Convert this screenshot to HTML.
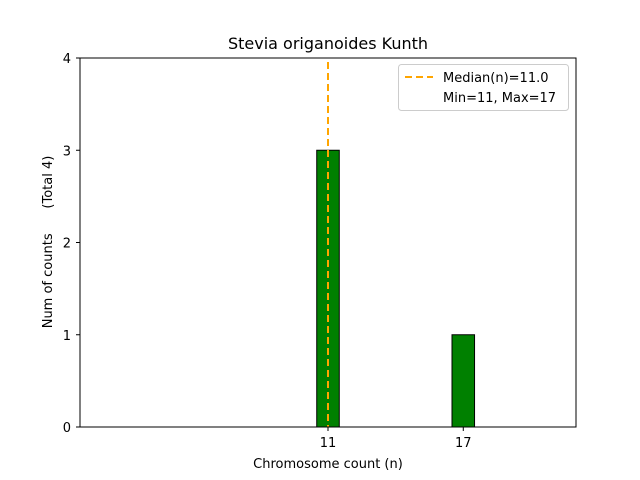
<!DOCTYPE html>
<html><head><meta charset="utf-8"><style>
body{margin:0;background:#fff}
svg{display:block;font-family:"DejaVu Sans","Liberation Sans",sans-serif}
</style></head><body>
<svg id="chart" width="640" height="480">
<text x="328" y="49" font-size="16" text-anchor="middle">Stevia origanoides Kunth</text>
<g id="plot"></g>
<rect x="80" y="58" width="496" height="369" fill="none" stroke="#000" stroke-width="1"/>
<text x="328" y="468" font-size="13" text-anchor="middle">Chromosome count (n)</text>
<text transform="translate(52,242) rotate(-90)" font-size="13" text-anchor="middle">Num of counts&#160;&#160;&#160;&#160;&#160;&#160;(Total 4)</text>
<g>
<rect x="398.5" y="64.5" width="170" height="46" rx="3" fill="#fff" stroke="#ccc"/>
<line x1="405" y1="77" x2="433" y2="77" stroke="orange" stroke-width="2" stroke-dasharray="7,4"/>
<text x="443" y="82" font-size="13">Median(n)=11.0</text>
<text x="443" y="102" font-size="13">Min=11, Max=17</text>
</g>
</svg>
<script>
const categories = [11, 17];
const counts = [3, 1];
const yTicks = [0, 1, 2, 3, 4];
const xTicks = [11, 17];
const medianValue = [11.0];
const NS = "http://www.w3.org/2000/svg";
const x = v => 80 + v * (496 / 22);
const y = v => 427 - v * (369 / 4);
const g = document.getElementById('plot');
function mk(tag, attrs){const e=document.createElementNS(NS,tag);for(const k in attrs)e.setAttribute(k,attrs[k]);return e;}
const base = mk('line',{x1:x(0),y1:427,x2:x(20.5),y2:427,stroke:'#000','stroke-width':1});


g.appendChild(base);
categories.forEach((c,i)=>{
  const r = mk('rect',{x:x(c-0.5),y:y(counts[i]),width:x(c+0.5)-x(c-0.5),height:y(0)-y(counts[i]),fill:'green',stroke:'#000','stroke-width':1});
  
  
  g.appendChild(r);
});
const med = mk('line',{x1:x(medianValue[0]),y1:62,x2:x(medianValue[0]),y2:427,stroke:'orange','stroke-width':2,'stroke-dasharray':'7,4'});


g.appendChild(med);
yTicks.forEach(t=>{
  const l = mk('line',{x1:76,y1:y(t),x2:80,y2:y(t),stroke:'#000'});
  
  
  g.appendChild(l);
  const tx = mk('text',{x:71,y:y(t)+5,'font-size':13,'text-anchor':'end'});
  tx.textContent = t;
  
  
  g.appendChild(tx);
});
xTicks.forEach(t=>{
  const l = mk('line',{x1:x(t),y1:427,x2:x(t),y2:431,stroke:'#000'});
  
  
  g.appendChild(l);
  const tx = mk('text',{x:x(t),y:447,'font-size':13,'text-anchor':'middle'});
  tx.textContent = t;
  
  
  g.appendChild(tx);
});
</script>
</body></html>
